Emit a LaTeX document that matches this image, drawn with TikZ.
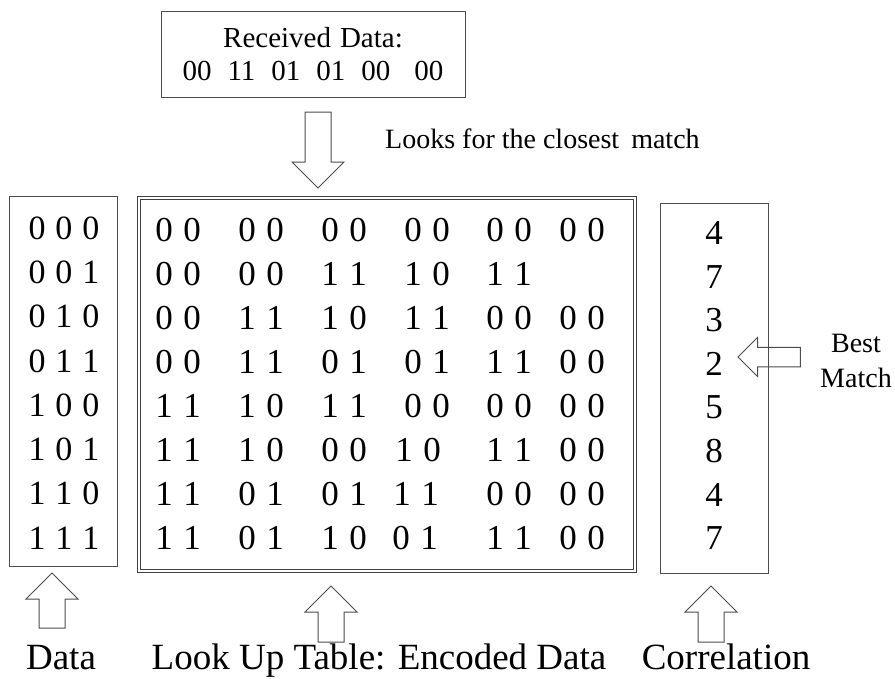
\documentclass[tikz,border=0pt]{standalone}
\usepackage{fontspec}
\setmainfont{Liberation Serif}
\newcommand\widebits{\spaceskip 10pt\relax}
\newcommand\widepairs{\spaceskip 10.5pt\relax}
\tikzset{
  boxline/.style={draw=black!70, line width=0.9pt},
  databox/.style={boxline, minimum width=108pt, minimum height=370pt, inner sep=0pt},
  lutbox/.style={draw=black!75, line width=0.8pt, double, double distance=1.8pt, minimum width=496pt, minimum height=373pt, inner sep=0pt},
  bitsfont/.style={font={\fontsize{34}{40}\selectfont\widebits}, inner sep=0pt},
  lutfont/.style={font={\fontsize{35}{40}\selectfont\widepairs}, inner sep=0pt},
  corfont/.style={font={\fontsize{35}{40}\selectfont}, inner sep=0pt},
  labelfont/.style={font={\fontsize{37}{40}\selectfont}, inner sep=0pt},
  notefont/.style={font={\fontsize{28}{32}\selectfont}, inner sep=0pt},
  pics/blockarrow/.style={code={
    \draw[boxline, line width=1pt] (0,0) -- (26,26) -- (13,26) -- (13,#1) -- (-13,#1) -- (-13,26) -- (-26,26) -- cycle;
  }}
}
\begin{document}
\begin{tikzpicture}[x=1pt, y=-1pt]
  \useasboundingbox (0,0) rectangle (895,678);
  \node[boxline, minimum width=304pt, minimum height=86pt, align=center,
    font={\fontsize{29}{33}\selectfont}] (recv) at (313,54)
    {Received\hspace{9pt}Data:\\00\hspace{16pt}11\hspace{16pt}01\hspace{16pt}01\hspace{16pt}00\hspace{24pt}00};
  \pic[rotate=180] at (318,188) {blockarrow=76};
  \node[notefont, anchor=base west] (looks) at (385,148) {Looks for the closest\hspace{12pt}match};

  \node[databox] (data) at (63,381) {};
  \node[lutbox] (lut) at (387,384.5) {};
  \node[databox] (corr) at (714,388) {};

  \foreach \bits [count=\r] in {0 0 0,0 0 1,0 1 0,0 1 1,1 0 0,1 0 1,1 1 0,1 1 1}
  {
    \pgfmathsetmacro\y{228+44.3*(\r-1)}
    \node[bitsfont] (d\r) at (64,\y) {\bits};
  }

  \foreach \a/\b/\c/\d/\e/\f/\dx [count=\r] in {
    0 0/0 0/0 0/0 0/0 0/0 0/427,
    0 0/0 0/1 1/1 0/1 1/{}/427,
    0 0/1 1/1 0/1 1/0 0/0 0/427,
    0 0/1 1/0 1/0 1/1 1/0 0/427,
    1 1/1 0/1 1/0 0/0 0/0 0/427,
    1 1/1 0/0 0/1 0/1 1/0 0/418,
    1 1/0 1/0 1/1 1/0 0/0 0/416,
    1 1/0 1/1 0/0 1/1 1/0 0/415}
  {
    \pgfmathsetmacro\y{230+44*(\r-1)}
    \node[lutfont] (t\r-1) at (178,\y) {\a};
    \node[lutfont] (t\r-2) at (261,\y) {\b};
    \node[lutfont] (t\r-3) at (344,\y) {\c};
    \node[lutfont] (t\r-4) at (\dx,\y) {\d};
    \node[lutfont] (t\r-5) at (509,\y) {\e};
    \node[lutfont] (t\r-6) at (582,\y) {\f};
  }

  \foreach \v [count=\r] in {4,7,3,2,5,8,4,7}
  {
    \pgfmathsetmacro\y{233+43.6*(\r-1)}
    \node[corfont] (c\r) at (714,\y) {\v};
  }

  \pic[rotate=90, scale=0.75] at (738,357) {blockarrow=83};
  \node[align=center, font={\fontsize{28}{35}\selectfont}, inner sep=0pt] (best) at (856,361) {Best\\Match};

  \pic at (52,573) {blockarrow=55};
  \pic at (331,586) {blockarrow=56};
  \pic at (711,586) {blockarrow=56};
  \node[labelfont, anchor=base] (datalabel) at (61,669) {Data};
  \node[labelfont, anchor=base] (lutlabel) at (379,669) {Look Up Table: Encoded Data};
  \node[labelfont, anchor=base] (corrlabel) at (726,669) {Correlation};
\end{tikzpicture}
\end{document}
